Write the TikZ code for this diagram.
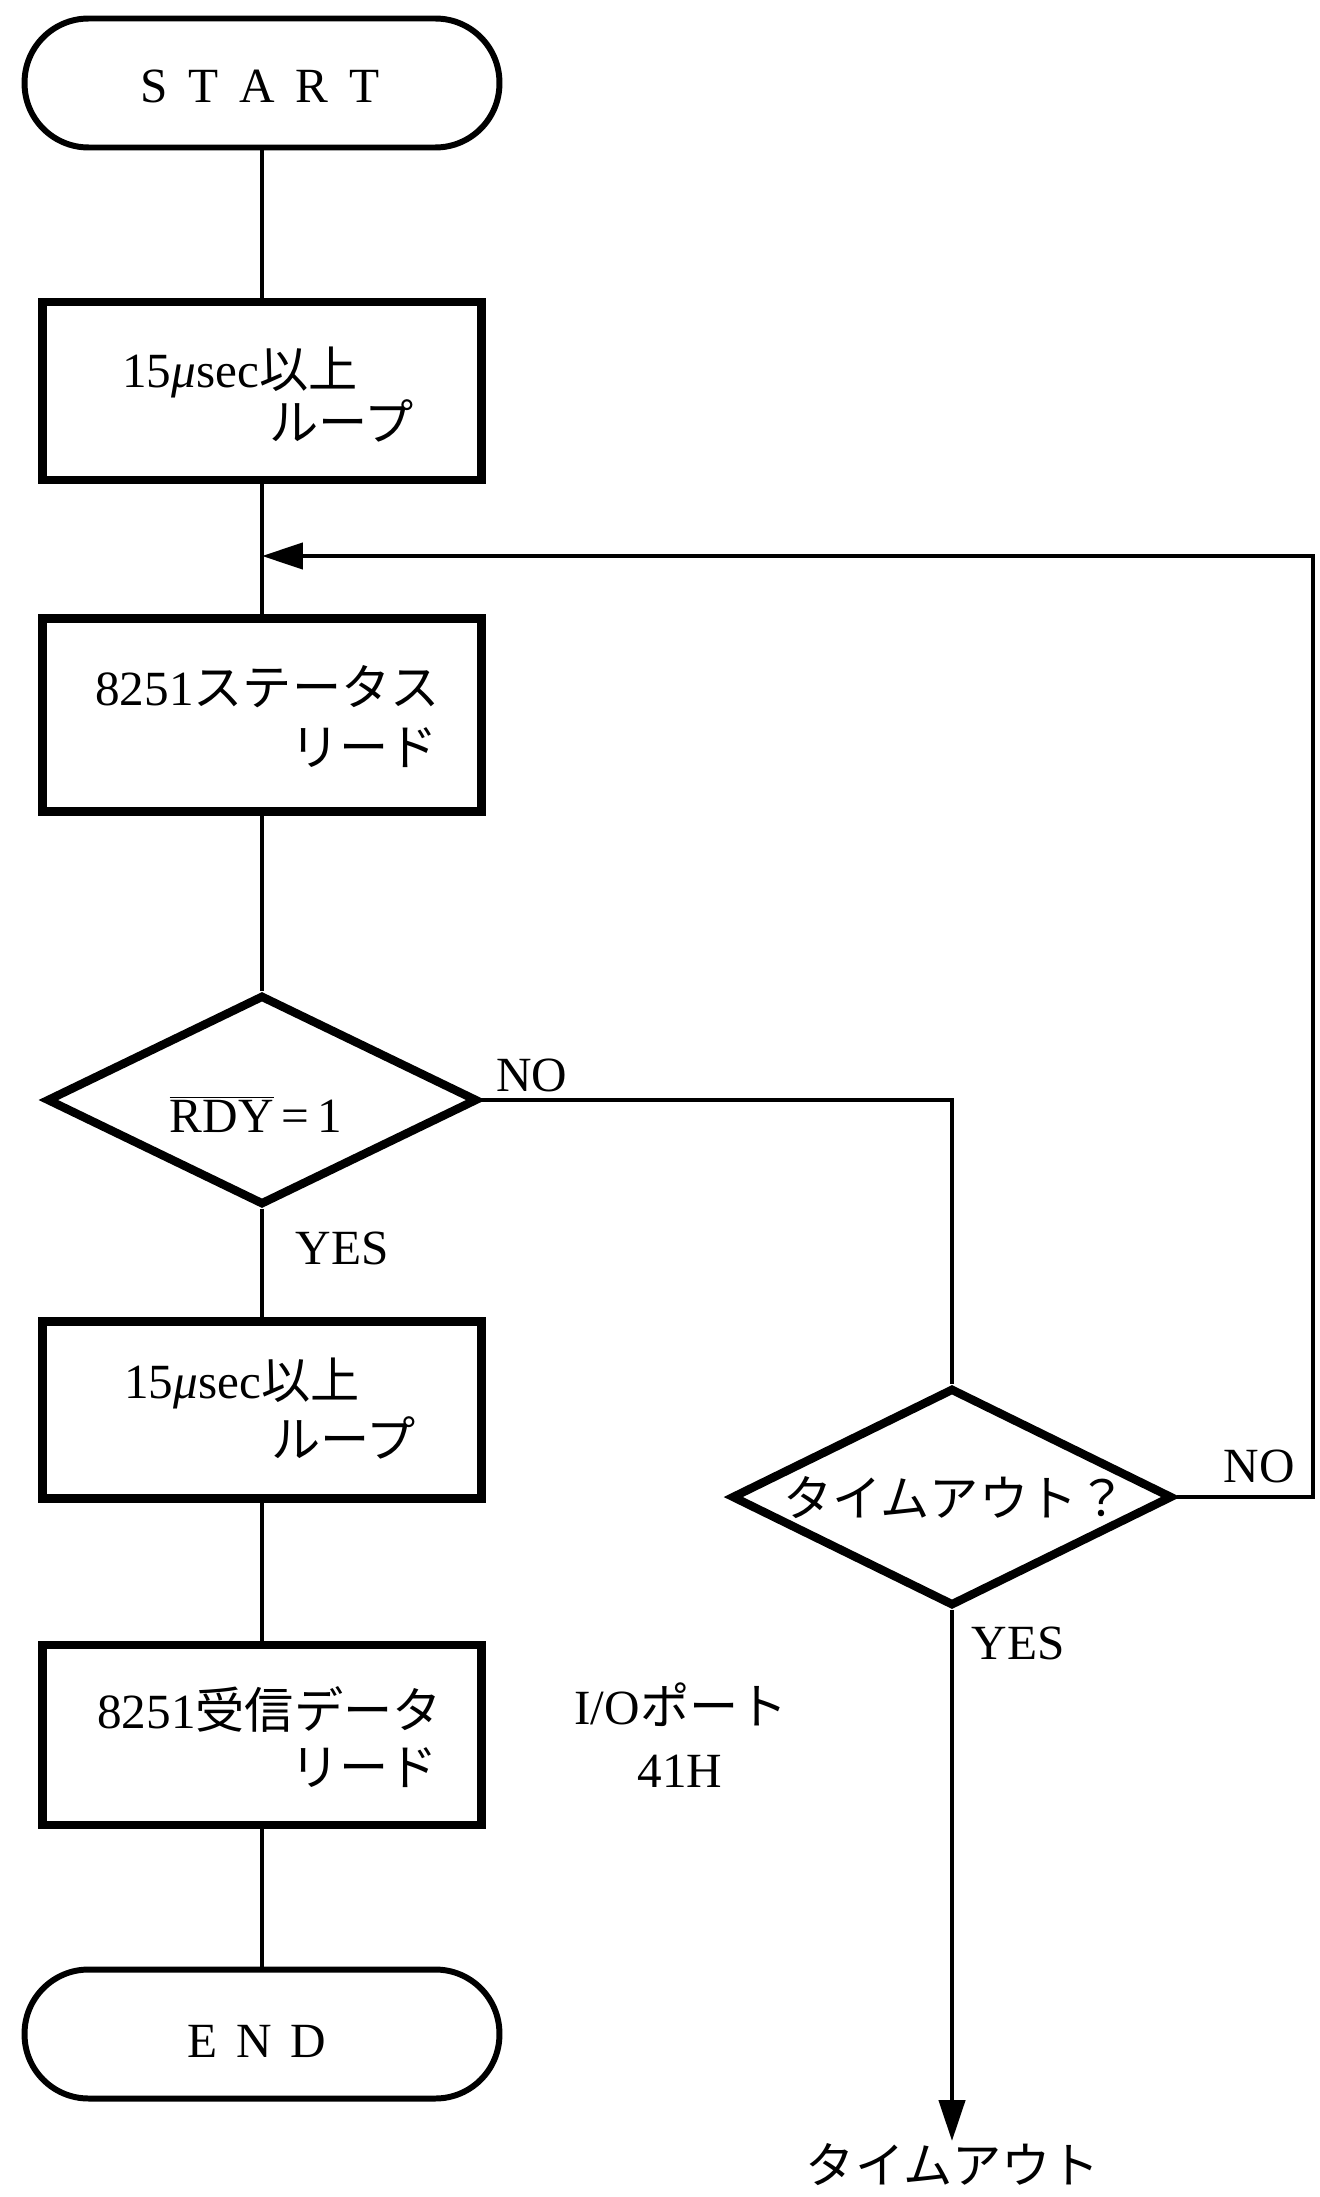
\documentclass[tikz,border=0pt]{standalone}
\usepackage{fontspec}
\setmainfont{Liberation Serif}
\newfontfamily\jpfont{Noto Sans CJK JP}
\usetikzlibrary{shapes.geometric,arrows.meta}
\newcommand{\J}[1]{{\jpfont #1}}
\tikzset{
  term/.style={draw, line width=3.4pt, rounded corners=1.28cm, inner sep=0pt, minimum width=9.5cm, minimum height=2.58cm},
  procbox/.style={draw, line width=4.8pt, inner sep=0pt, minimum width=8.78cm},
  decbox/.style={draw, diamond, line width=4.8pt, inner sep=0pt},
  conn/.style={line width=2.6pt},
  tip/.style={-{Triangle[length=0.82cm,width=0.52cm]}},
  lbl/.style={inner sep=0pt, font=\fontsize{28}{33}\selectfont},
}
\begin{document}
\begin{tikzpicture}[x=0.02cm, y=-0.02cm]
\useasboundingbox (0,0) rectangle (1319,2197);
\fill[white] (0,0) rectangle (1319,2197);

% terminals and boxes
\node[term] (start) at (262,83) {};
\node[lbl, anchor=base] (starttxt) at (260,103) {S\hspace{.42em}T\hspace{.42em}A\hspace{.42em}R\hspace{.42em}T};

\node[procbox, minimum height=3.56cm] (b1) at (262,391) {};
\node[lbl, anchor=base west] (t1a) at (122,387) {15\textit{μ}sec\J{以上}};
\node[lbl, anchor=base east] (t1b) at (414,440) {\J{ループ}};

\node[procbox, minimum height=3.86cm] (b2) at (262,715) {};
\node[lbl, anchor=base west] (t2a) at (95,705) {8251\J{ステータス}};
\node[lbl, anchor=base east] (t2b) at (438,765) {\J{リード}};

\node[decbox, minimum width=8.62cm, minimum height=4.2cm] (d1) at (262,1100) {};
\node[lbl, anchor=base] (t3) at (256,1132) {$\overline{\hbox{RDY}}$\,=\,1};

\node[procbox, minimum height=3.54cm] (b3) at (262,1410) {};
\node[lbl, anchor=base west] (t4a) at (124,1398) {15\textit{μ}sec\J{以上}};
\node[lbl, anchor=base east] (t4b) at (416,1457) {\J{ループ}};

\node[procbox, minimum height=3.6cm] (b4) at (262,1735) {};
\node[lbl, anchor=base west] (t5a) at (97,1728) {8251\J{受信データ}};
\node[lbl, anchor=base east] (t5b) at (438,1785) {\J{リード}};

\node[term] (end) at (262,2034) {};
\node[lbl, anchor=base] (endtxt) at (257,2057) {E\hspace{.38em}N\hspace{.38em}D};

\node[decbox, minimum width=8.82cm, minimum height=4.36cm] (d2) at (952,1497) {};
\node[lbl, anchor=base] (t6) at (955,1516) {\J{タイムアウト？}};

% labels
\node[lbl, anchor=base] (no1) at (532,1091) {NO};
\node[lbl, anchor=base] (yes1) at (342,1264) {YES};
\node[lbl, anchor=base] (no2) at (1259,1482) {NO};
\node[lbl, anchor=base] (yes2) at (1018,1659) {YES};
\node[lbl, anchor=base] (io1) at (681,1724) {I/O\J{ポート}};
\node[lbl, anchor=base] (io2) at (680,1787) {41H};
\node[lbl, anchor=base] (tout) at (953,2183) {\J{タイムアウト}};

% connectors
\coordinate (join) at (262,556);
\coordinate (cr) at (1313,556);
\coordinate (tend) at (952,2141);
\draw[conn] (start.south) -- (b1.north);
\draw[conn] (b1.south) -- (b2.north);
\draw[conn] (b2.south) -- (d1.north);
\draw[conn] (d1.south) -- (b3.north);
\draw[conn] (b3.south) -- (b4.north);
\draw[conn] (b4.south) -- (end.north);
\draw[conn] (d1.east) -| (d2.north);
\draw[conn, tip] (d2.east) -| (cr) -- (join);
\draw[conn, tip] (d2.south) -- (tend);
\end{tikzpicture}
\end{document}
